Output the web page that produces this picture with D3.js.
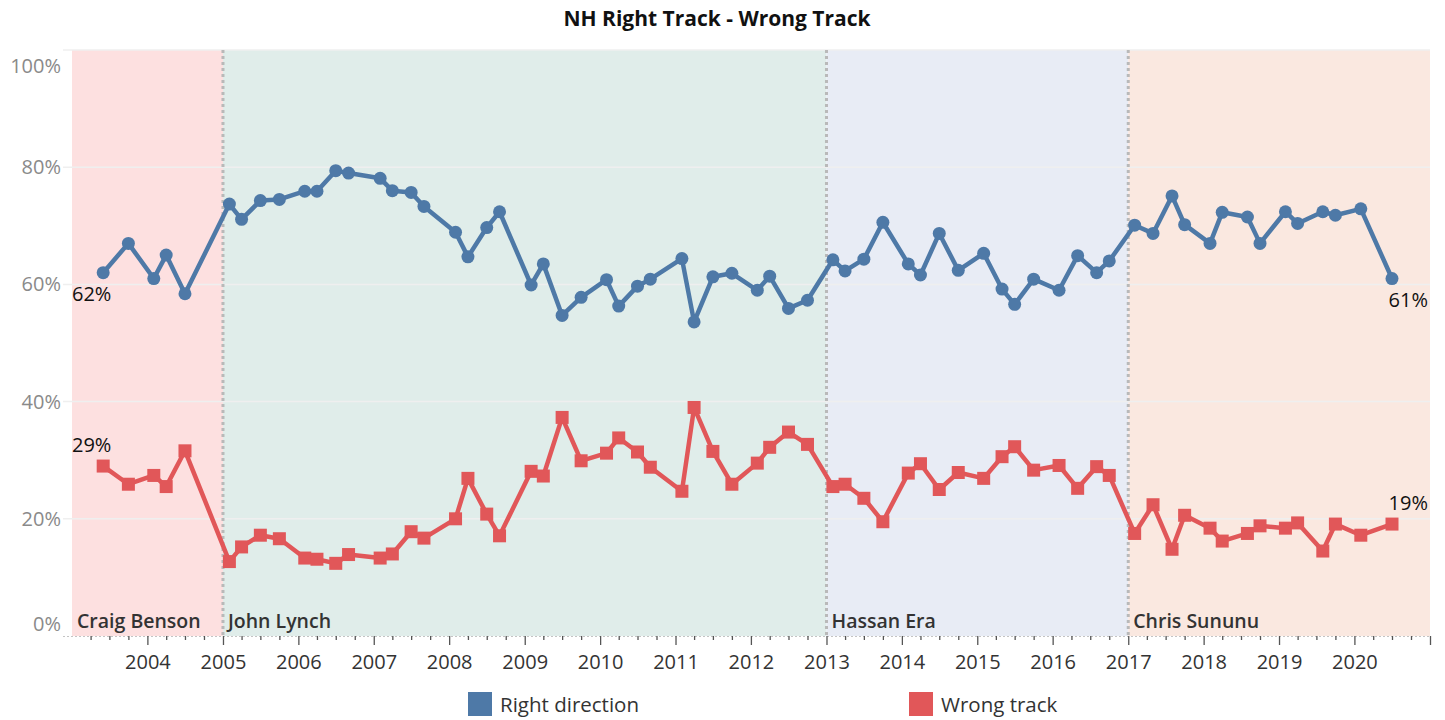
<!DOCTYPE html>
<html>
<head>
<meta charset="utf-8">
<script src="https://cdn.jsdelivr.net/npm/d3@7"></script>
<style>
  body { margin: 0; background: #fff; }
  svg { font-family: "Open Sans", sans-serif; }
</style>
</head>
<body>
<svg id="chart" width="1445" height="720"></svg>
<script>
// poll dates (month of fieldwork) and the two answers, in percent
var poll_dates = ["2003-06","2003-10","2004-02","2004-04","2004-07",
  "2005-02","2005-04","2005-07","2005-10","2006-02","2006-04","2006-07","2006-09",
  "2007-02","2007-04","2007-07","2007-09","2008-02","2008-04","2008-07","2008-09",
  "2009-02","2009-04","2009-07","2009-10","2010-02","2010-04","2010-07","2010-09",
  "2011-02","2011-04","2011-07","2011-10","2012-02","2012-04","2012-07","2012-10",
  "2013-02","2013-04","2013-07","2013-10","2014-02","2014-04","2014-07","2014-10",
  "2015-02","2015-05","2015-07","2015-10","2016-02","2016-05","2016-08","2016-10",
  "2017-02","2017-05","2017-08","2017-10","2018-02","2018-04","2018-08","2018-10",
  "2019-02","2019-04","2019-08","2019-10","2020-02","2020-07"]
var right_direction = [62,67,61,65,58.4,
  73.7,71.1,74.3,74.5,75.9,75.9,79.4,79.0,
  78.1,76.0,75.7,73.3,68.9,64.7,69.7,72.4,
  59.9,63.5,54.7,57.8,60.8,56.3,59.7,60.9,
  64.4,53.6,61.3,61.9,59.0,61.4,55.9,57.3,
  64.2,62.3,64.3,70.6,63.5,61.6,68.7,62.4,
  65.3,59.2,56.6,60.9,59.0,64.9,62.0,64.0,
  70.1,68.7,75.1,70.2,67.0,72.3,71.5,67.0,
  72.4,70.4,72.4,71.8,72.9,61.0]
var wrong_track = [29.0,25.9,27.4,25.5,31.6,
  12.7,15.2,17.2,16.6,13.3,13.1,12.4,13.9,
  13.3,14.0,17.8,16.7,20.0,26.9,20.8,17.1,
  28.1,27.3,37.3,29.9,31.2,33.8,31.4,28.8,
  24.7,39.0,31.5,25.9,29.5,32.2,34.8,32.7,
  25.5,25.9,23.5,19.5,27.8,29.4,25.0,27.9,
  26.9,30.6,32.3,28.3,29.1,25.2,28.9,27.4,
  17.5,22.4,14.8,20.6,18.4,16.2,17.5,18.8,
  18.4,19.3,14.5,19.1,17.2,19.1]

var governors = ["Craig Benson", "John Lynch", "Hassan Era", "Chris Sununu"]
var term_starts = ["2003-01", "2005-01", "2013-01", "2017-01"]
var term_ends = ["2005-01", "2013-01", "2017-01", "2021-01"]

var y_ticks = [0, 20, 40, 60, 80, 100]
var year_ticks = d3.range(2004, 2022)
var series_names = ["Right direction", "Wrong track"]

// styles
var blue = "#4e79a7", red = "#e15759"
var term_fills = ["#fde0e0", "#e0edea", "#e8ecf5", "#fae8e0"]

var parse = d3.timeParse("%Y-%m")
var dates = poll_dates.map(parse)

var svg = d3.select("#chart")
// NOTE: can't use `top` as a global name (window.top)
var plot_left = 72, plot_right = 1430, plot_top = 50, plot_bottom = 636

var x = d3.scaleTime().domain([parse("2003-01"), parse("2021-01")]).range([plot_left, plot_right])
var y = d3.scaleLinear().domain([0, 100]).range([plot_bottom, plot_top])

// title
svg.append("text")
  .attr("x", 717).attr("y", 26)
  .attr("text-anchor", "middle")
  .style("font-size", "21px").style("font-weight", "bold").style("fill", "#111")
  .text("NH Right Track - Wrong Track")

// governor bands
var terms = governors.map(function(g, i) {
  return { name: g, start: parse(term_starts[i]), end: parse(term_ends[i]), i: i }
})
svg.selectAll("rect.term")
  .data(terms)
  .enter().append("rect")
    .attr("class", "term")
    .attr("x", function(d) { return x(d.start) })
    .attr("width", function(d) { return x(d.end) - x(d.start) })
    .attr("y", plot_top)
    .attr("height", plot_bottom - plot_top)
    .style("fill", function(d) { return term_fills[d.i] })

// gridlines
svg.selectAll("line.grid")
  .data(y_ticks.filter(function(d) { return d > 0 }))
  .enter().append("line")
    .attr("class", "grid")
    .attr("x1", 63).attr("x2", plot_right)
    .attr("y1", function(d) { return y(d) })
    .attr("y2", function(d) { return y(d) })
    .style("stroke", "#efefef").style("stroke-width", 1.5)

// y labels - Tableau pushes the end labels inside
svg.selectAll("text.ylab")
  .data(y_ticks)
  .enter().append("text")
    .attr("class", "ylab")
    .attr("x", 61)
    .attr("y", function(d) {
      var yy = y(d) + 7
      if (d == 100) yy += 16
      if (d == 0) yy -= 12
      return yy
    })
    .attr("text-anchor", "end")
    .style("font-size", "20px").style("fill", "#8a8a8a")
    .text(function(d) { return d + "%" })

// term boundaries
svg.selectAll("line.term_edge")
  .data(terms.slice(1))
  .enter().append("line")
    .attr("class", "term_edge")
    .attr("x1", function(d) { return x(d.start) })
    .attr("x2", function(d) { return x(d.start) })
    .attr("y1", plot_top).attr("y2", plot_bottom)
    .style("stroke", "#b9b9b9").style("stroke-width", 3)
    .style("stroke-dasharray", "3,3")

// governor names
svg.selectAll("text.gov")
  .data(terms)
  .enter().append("text")
    .attr("class", "gov")
    .attr("x", function(d) { return x(d.start) + 5 })
    .attr("y", 628)
    .style("font-size", "19.5px").style("font-weight", 600).style("fill", "#333")
    .text(function(d) { return d.name })

// x axis: dotted base line, quarter ticks, year ticks
svg.append("line")
  .attr("x1", 63).attr("x2", plot_right)
  .attr("y1", plot_bottom + 0.5).attr("y2", plot_bottom + 0.5)
  .style("stroke", "#c4c4c4").style("stroke-dasharray", "2,2")

var quarters = d3.timeMonth.every(3).range(parse("2003-04"), parse("2021-01"))
  .filter(function(d) { return d.getMonth() != 0 })
var minor_axis = d3.axisBottom(x).tickValues(quarters).tickSize(4).tickFormat("")
svg.append("g").attr("transform", "translate(0," + plot_bottom + ")").call(minor_axis)

var major_axis = d3.axisBottom(x)
  .tickValues(year_ticks.map(function(d) { return new Date(d, 0, 1) }))
  .tickSize(9).tickPadding(10)
  .tickFormat(function(d) { return d.getFullYear() < 2021 ? d3.timeFormat("%Y")(d) : "" })
var gx = svg.append("g").attr("transform", "translate(0," + plot_bottom + ")").call(major_axis)
svg.selectAll(".domain").remove()
svg.selectAll(".tick line").style("stroke", "#555").style("stroke-width", 1.3)
gx.selectAll("text").style("font-size", "20px").style("fill", "#333")
  .style("font-family", "'Open Sans', sans-serif")

// lines + marks
var line_for = function(values) {
  return d3.line()
    .x(function(d, i) { return x(dates[i]) })
    .y(function(d) { return y(d) })(values)
}
svg.append("path").attr("d", line_for(right_direction))
  .style("fill", "none").style("stroke", blue).style("stroke-width", 4.5)
  .style("stroke-linejoin", "round")
svg.append("path").attr("d", line_for(wrong_track))
  .style("fill", "none").style("stroke", red).style("stroke-width", 4.5)
  .style("stroke-linejoin", "round")

svg.selectAll("circle.rd")
  .data(right_direction)
  .enter().append("circle")
    .attr("class", "rd")
    .attr("cx", function(d, i) { return x(dates[i]) })
    .attr("cy", function(d) { return y(d) })
    .attr("r", 6.5)
    .style("fill", blue)

var sq = 13
svg.selectAll("rect.wt")
  .data(wrong_track)
  .enter().append("rect")
    .attr("class", "wt")
    .attr("x", function(d, i) { return x(dates[i]) - sq / 2 })
    .attr("y", function(d) { return y(d) - sq / 2 })
    .attr("width", sq).attr("height", sq)
    .style("fill", red)

// first / last value labels
var n = dates.length - 1
var end_labels = [
  { v: right_direction[0], x: plot_left, dy: 28, anchor: "start" },
  { v: wrong_track[0], x: plot_left, dy: -14, anchor: "start" },
  { v: right_direction[n], x: plot_right - 2, dy: 28, anchor: "end" },
  { v: wrong_track[n], x: plot_right - 2, dy: -14, anchor: "end" }
]
svg.selectAll("text.endlab")
  .data(end_labels)
  .enter().append("text")
    .attr("class", "endlab")
    .attr("x", function(d) { return d.x })
    .attr("y", function(d) { return y(d.v) + d.dy })
    .attr("text-anchor", function(d) { return d.anchor })
    .style("font-size", "20px").style("fill", "#111")
    .text(function(d) { return Math.round(d.v) + "%" })

// legend
var legend_x = [468, 909]
var legend = svg.selectAll("g.legend")
  .data(series_names)
  .enter().append("g")
    .attr("class", "legend")
    .attr("transform", function(d, i) { return "translate(" + legend_x[i] + ",692)" })
legend.append("rect")
  .attr("width", 24).attr("height", 24)
  .style("fill", function(d, i) { return i == 0 ? blue : red })
legend.append("text")
  .attr("x", 32).attr("y", 20)
  .style("font-size", "20.5px").style("fill", "#333")
  .text(function(d) { return d })
</script>
</body>
</html>
